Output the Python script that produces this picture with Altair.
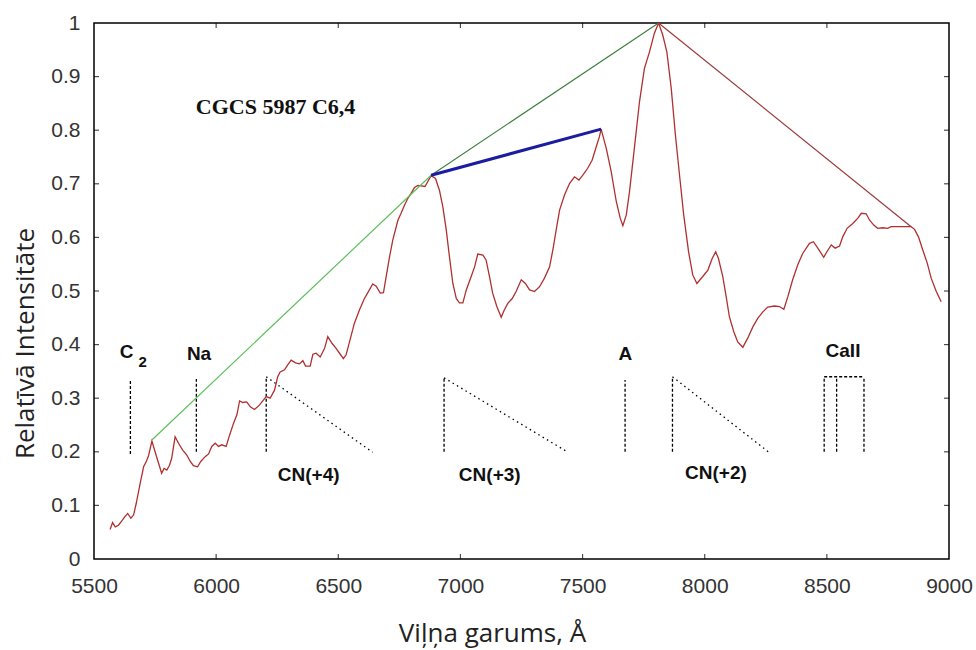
import altair as alt
import pandas as pd

# Observed spectrum: wavelength (Å) and relative intensity
wavelength = [
    5566, 5576, 5587, 5600, 5614, 5628, 5638, 5651, 5662, 5673, 5689, 5703, 5714, 5723,
    5737, 5750, 5764, 5777, 5787, 5798, 5809, 5818, 5832, 5846, 5863, 5880, 5894, 5907,
    5924, 5937, 5955, 5969, 5982, 5996, 6010, 6023, 6041, 6055, 6071, 6085, 6096, 6109,
    6125, 6140, 6157, 6177, 6205, 6221, 6239, 6252, 6262, 6280, 6293, 6307, 6325, 6341,
    6355, 6366, 6385, 6396, 6409, 6426, 6444, 6457, 6475, 6491, 6508, 6521, 6532, 6546,
    6566, 6587, 6607, 6621, 6641, 6655, 6672, 6685, 6696, 6710, 6723, 6744, 6757, 6771,
    6785, 6798, 6812, 6826, 6855, 6880, 6898, 6914, 6928, 6942, 6955, 6969, 6983, 6996,
    7010, 7024, 7044, 7058, 7071, 7092, 7105, 7119, 7132, 7149, 7167, 7180, 7194, 7212,
    7228, 7249, 7266, 7283, 7303, 7324, 7344, 7365, 7378, 7392, 7406, 7426, 7447, 7467,
    7485, 7501, 7521, 7539, 7556, 7569, 7576, 7597, 7617, 7638, 7654, 7665, 7679, 7692,
    7712, 7733, 7753, 7774, 7794, 7811, 7828, 7845, 7863, 7880, 7897, 7914, 7934, 7951,
    7968, 7992, 8013, 8031, 8045, 8056, 8074, 8088, 8101, 8119, 8135, 8156, 8176, 8197,
    8217, 8238, 8258, 8286, 8306, 8324, 8340, 8360, 8381, 8401, 8429, 8445, 8463, 8487,
    8504, 8518, 8534, 8552, 8565, 8583, 8606, 8627, 8641, 8661, 8675, 8692, 8708, 8729,
    8749, 8763, 8804, 8845, 8859, 8875, 8893, 8911, 8927, 8948, 8968,
]
intensity = [
    0.055, 0.068, 0.060, 0.063, 0.071, 0.080, 0.085, 0.076, 0.082, 0.104, 0.141, 0.172, 0.182, 0.192,
    0.220, 0.200, 0.179, 0.160, 0.169, 0.166, 0.175, 0.188, 0.228, 0.216, 0.203, 0.194, 0.182, 0.174,
    0.172, 0.182, 0.191, 0.196, 0.210, 0.216, 0.210, 0.213, 0.210, 0.231, 0.253, 0.269, 0.295, 0.292,
    0.293, 0.284, 0.279, 0.287, 0.303, 0.300, 0.315, 0.340, 0.349, 0.353, 0.362, 0.371, 0.366, 0.364,
    0.370, 0.360, 0.360, 0.382, 0.384, 0.377, 0.393, 0.415, 0.402, 0.393, 0.382, 0.374, 0.381, 0.405,
    0.440, 0.465, 0.486, 0.497, 0.513, 0.509, 0.496, 0.497, 0.527, 0.564, 0.595, 0.632, 0.645, 0.660,
    0.673, 0.682, 0.693, 0.697, 0.695, 0.715, 0.710, 0.688, 0.657, 0.614, 0.564, 0.514, 0.486, 0.478,
    0.478, 0.502, 0.527, 0.545, 0.569, 0.567, 0.558, 0.527, 0.496, 0.471, 0.451, 0.465, 0.477, 0.486,
    0.499, 0.521, 0.514, 0.502, 0.499, 0.508, 0.524, 0.545, 0.576, 0.614, 0.651, 0.679, 0.701, 0.713,
    0.707, 0.716, 0.729, 0.744, 0.769, 0.788, 0.802, 0.766, 0.723, 0.667, 0.636, 0.622, 0.642, 0.685,
    0.766, 0.853, 0.915, 0.946, 0.981, 1.000, 0.978, 0.946, 0.878, 0.791, 0.716, 0.642, 0.573, 0.530,
    0.514, 0.527, 0.539, 0.561, 0.573, 0.561, 0.527, 0.489, 0.452, 0.424, 0.405, 0.395, 0.412, 0.433,
    0.449, 0.461, 0.470, 0.472, 0.471, 0.466, 0.489, 0.521, 0.549, 0.570, 0.589, 0.592, 0.580, 0.563,
    0.576, 0.586, 0.580, 0.584, 0.601, 0.617, 0.626, 0.636, 0.645, 0.644, 0.632, 0.623, 0.617, 0.618,
    0.617, 0.620, 0.620, 0.620, 0.615, 0.601, 0.576, 0.552, 0.524, 0.499, 0.480,
]

# Continuum segments between spectrum maxima
seg_name = ["green_lo", "green_hi", "blue", "brown"]
seg_x1 = [5737, 6880, 6880, 7811]
seg_y1 = [0.222, 0.716, 0.716, 1.000]
seg_x2 = [6880, 7811, 7576, 8845]
seg_y2 = [0.716, 1.000, 0.802, 0.620]

# Identified features: vertical markers
marker_wl = [5649, 5919, 6205, 6933, 7674, 7868, 8489, 8540, 8652]
marker_top = [0.334, 0.336, 0.340, 0.338, 0.334, 0.340, 0.340, 0.340, 0.340]
marker_bottom = [0.196, 0.200, 0.200, 0.200, 0.200, 0.200, 0.200, 0.200, 0.200]

# CN band heads with their degrading tails
band_x1 = [6205, 6933, 7868]
band_y1 = [0.340, 0.338, 0.340]
band_x2 = [6641, 7437, 8266]
band_y2 = [0.199, 0.200, 0.198]

# Ca II triplet bracket
caii_x1 = [8489]
caii_x2 = [8652]
caii_y = [0.340]

x_ticks = [5500, 6000, 6500, 7000, 7500, 8000, 8500, 9000]
y_ticks = [0, 0.1, 0.2, 0.3, 0.4, 0.5, 0.6, 0.7, 0.8, 0.9, 1]

spec = pd.DataFrame({"wl": wavelength, "val": intensity})
segs = pd.DataFrame({"name": seg_name, "wl": seg_x1, "val": seg_y1, "wl2": seg_x2, "val2": seg_y2})
marks = pd.DataFrame({"wl": marker_wl, "val": marker_bottom, "val2": marker_top})
bands = pd.DataFrame({"wl": band_x1, "val": band_y1, "wl2": band_x2, "val2": band_y2})
caii = pd.DataFrame({"wl": caii_x1, "wl2": caii_x2, "val": caii_y})

xs = alt.Scale(domain=[5500, 9000], nice=False, zero=False)
ys = alt.Scale(domain=[0, 1], nice=False, zero=False)

x_axis = alt.Axis(
    values=x_ticks, format="d", ticks=False, domain=False, grid=False,
    labelFont="Liberation Sans", labelFontSize=21, labelColor="#333333",
    labelPadding=16, labelFlush=False, labelOverlap=False,
    title="Viļņa garums, Å", titleFont="Open Sans", titleFontSize=26,
    titleFontWeight="normal", titleColor="#222222",
    titleX=398, titleY=82, titleAlign="center", titleBaseline="alphabetic",
)
y_axis = alt.Axis(
    values=y_ticks, format=".1~f", ticks=False, domain=False, grid=False,
    labelFont="Liberation Sans", labelFontSize=21, labelColor="#333333",
    labelPadding=14, labelOverlap=False,
    title="Relatīvā Intensitāte", titleFont="Open Sans", titleFontSize=26,
    titleFontWeight="normal", titleColor="#222222",
    titleX=-61, titleY=320, titleAngle=270, titleAlign="center",
    titleBaseline="alphabetic",
)


def X(field="wl"):
    return alt.X(f"{field}:Q", scale=xs, axis=x_axis)


def Y(field="val"):
    return alt.Y(f"{field}:Q", scale=ys, axis=y_axis)


spectrum = alt.Chart(spec).mark_line(color="#b03030", strokeWidth=1.3).encode(x=X(), y=Y())

seg_style = {
    "green_lo": dict(color="#5cbf5c", strokeWidth=1.2),
    "green_hi": dict(color="#3b7d3b", strokeWidth=1.1),
    "blue": dict(color="#1c1ca0", strokeWidth=3),
    "brown": dict(color="#9c3a3a", strokeWidth=1.2),
}
seg_layers = [
    alt.Chart(segs).transform_filter(alt.datum.name == n)
    .mark_rule(**st).encode(x=X(), y=Y(), x2="wl2:Q", y2="val2:Q")
    for n, st in seg_style.items()
]

markers = alt.Chart(marks).mark_rule(
    color="black", strokeWidth=1.3, strokeDash=[3, 2]
).encode(x=X(), y=Y(), y2="val2:Q")

band_tails = alt.Chart(bands).mark_rule(
    color="black", strokeWidth=1.3, strokeDash=[1.5, 3.5]
).encode(x=X(), y=Y(), x2="wl2:Q", y2="val2:Q")

caii_top = alt.Chart(caii).mark_rule(
    color="black", strokeWidth=1.3, strokeDash=[3, 2]
).encode(x=X(), x2="wl2:Q", y=Y())

# Inward-pointing frame ticks
bottom_t = pd.DataFrame({"wl": x_ticks[1:-1], "val": [0] * (len(x_ticks) - 2)})
top_t = pd.DataFrame({"wl": x_ticks[1:-1], "val": [1] * (len(x_ticks) - 2)})
left_t = pd.DataFrame({"wl": [5500] * (len(y_ticks) - 2), "val": y_ticks[1:-1]})
right_t = pd.DataFrame({"wl": [9000] * (len(y_ticks) - 2), "val": y_ticks[1:-1]})
tick_layers = [
    alt.Chart(bottom_t).mark_tick(orient="vertical", size=5, thickness=1.2, color="black", yOffset=-2.5).encode(x=X(), y=Y()),
    alt.Chart(top_t).mark_tick(orient="vertical", size=5, thickness=1.2, color="black", yOffset=2.5).encode(x=X(), y=Y()),
    alt.Chart(left_t).mark_tick(orient="horizontal", size=5, thickness=1.2, color="black", xOffset=2.5).encode(x=X(), y=Y()),
    alt.Chart(right_t).mark_tick(orient="horizontal", size=5, thickness=1.2, color="black", xOffset=-2.5).encode(x=X(), y=Y()),
]


def label(text, wl, val, size=19, font="Liberation Sans"):
    return alt.Chart().mark_text(
        text=text, font=font, fontSize=size, fontWeight="bold", color="#111111",
        align="center", baseline="middle",
    ).encode(x=alt.datum(wl, scale=xs), y=alt.datum(val, scale=ys))


labels = [
    label("C", 5633, 0.387),
    label("2", 5699, 0.367, size=15),
    label("Na", 5930, 0.382),
    label("A", 7675, 0.382),
    label("CaII", 8566, 0.388),
    label("CN(+4)", 6379, 0.157),
    label("CN(+3)", 7120, 0.157),
    label("CN(+2)", 8046, 0.161),
    label("CGCS 5987 C6,4", 6243, 0.844, size=22, font="Liberation Serif"),
]

chart = alt.layer(
    *tick_layers, markers, band_tails, caii_top, spectrum, *seg_layers, *labels
).properties(
    width=855, height=536,
    autosize=alt.AutoSizeParams(type="none"),
    padding={"left": 94, "top": 23, "right": 27, "bottom": 91},
    background="white",
).configure_view(stroke="black", strokeWidth=1.5)

chart.save("out.html", embed_options={"renderer": "svg", "actions": False})
